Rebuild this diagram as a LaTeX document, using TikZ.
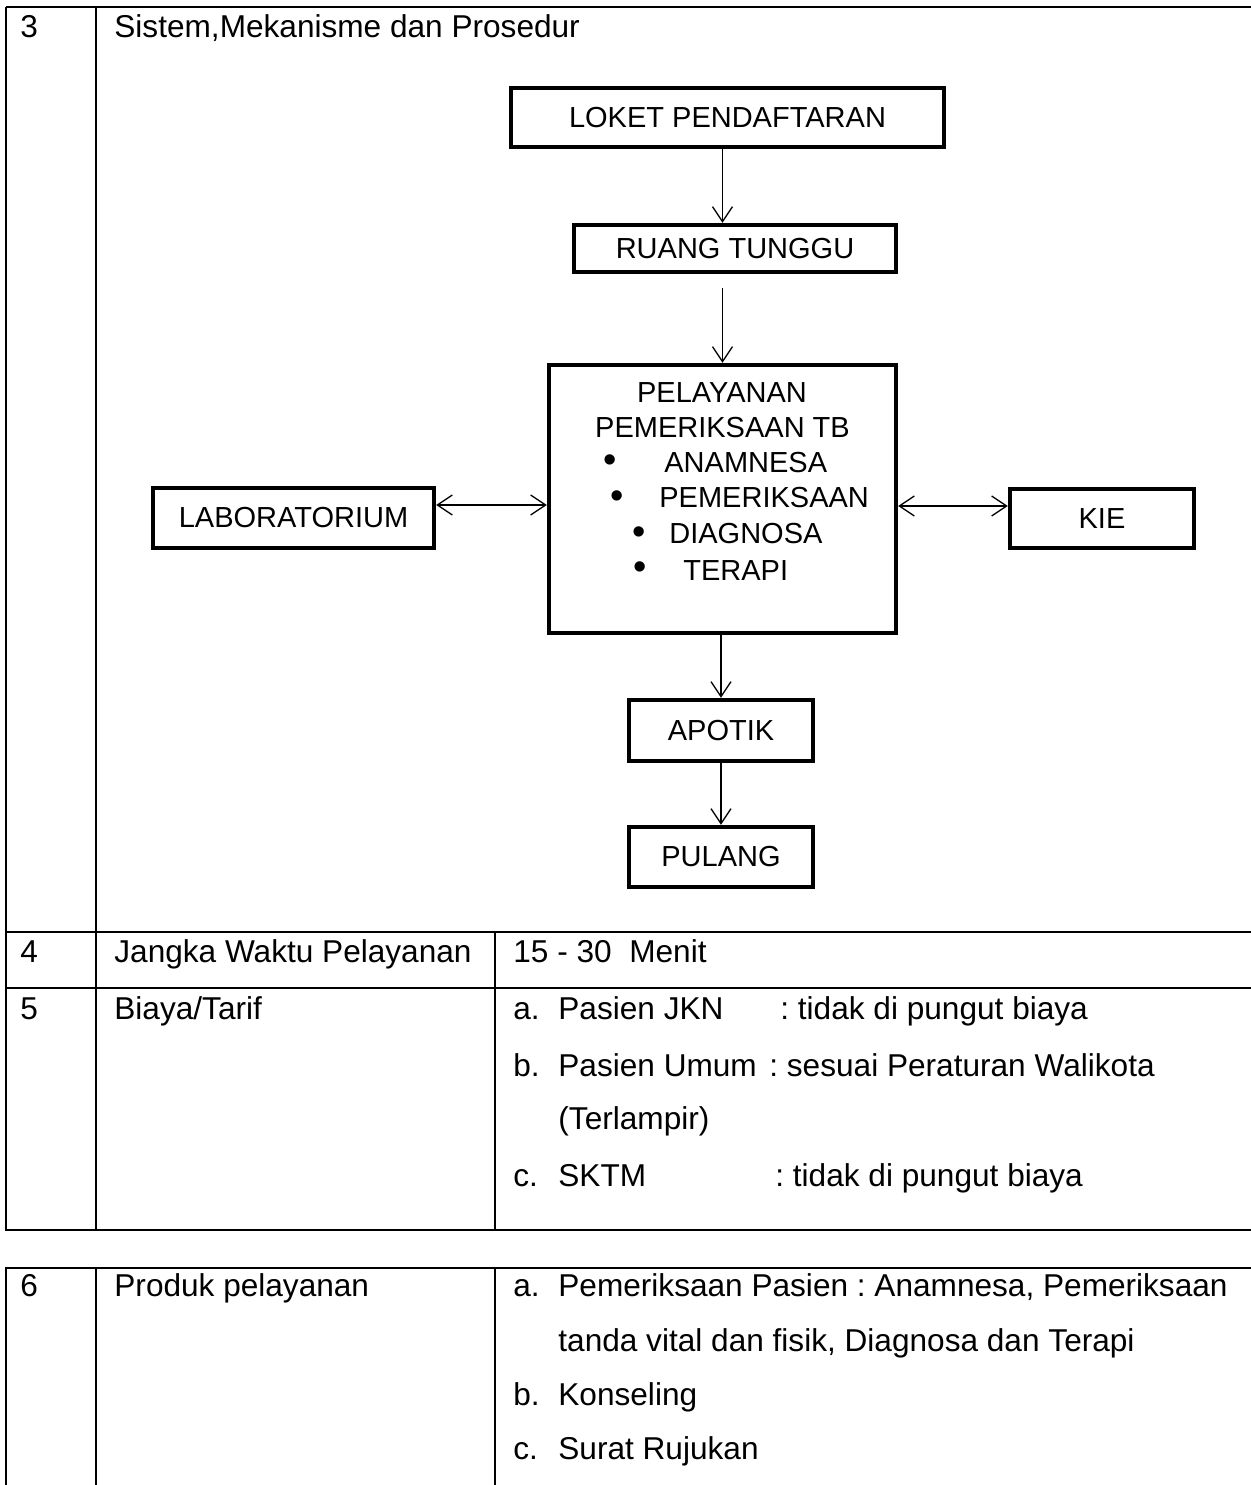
\documentclass[tikz,border=0pt]{standalone}
\usepackage{fontspec}
\setmainfont{Liberation Sans}
\usetikzlibrary{arrows.meta}
\frenchspacing

\begin{document}
\begin{tikzpicture}[x=0.5pt, y=-0.5pt, auto,
    langkah/.style ={rectangle, draw, line width=2.2pt, inner sep=0pt, font=\fontsize{14.5}{17}\selectfont},
    alur/.style ={line width=0.65pt, -{Straight Barb[length=7.5pt, width=10pt]}},
    duaarah/.style ={line width=0.65pt, {Straight Barb[length=7.5pt, width=10pt]}-{Straight Barb[length=7.5pt, width=10pt]}},
    isi/.style ={anchor=base west, inner sep=0pt, font=\fontsize{15.8}{19}\selectfont},
    butir/.style ={inner sep=0pt, font=\fontsize{14.5}{17}\selectfont},
    titik/.style ={inner sep=0pt, font=\fontsize{19}{19}\selectfont},
    garis/.style ={line width=1pt}]
   \useasboundingbox (0,0) rectangle (1251,1485);

   % tabel
   \draw[garis] (6,7) -- (1251,7);
   \draw[garis] (6,7) -- (6,1230);
   \draw[garis] (96,7) -- (96,1230);
   \draw[garis] (6,932) -- (1251,932);
   \draw[garis] (495,932) -- (495,1230);
   \draw[garis] (6,988) -- (1251,988);
   \draw[garis, line width=1.3pt] (5,1230) -- (1251,1230);
   \draw[garis, line width=1.3pt] (5,1268) -- (1251,1268);
   \draw[garis] (6,1268) -- (6,1485);
   \draw[garis] (96,1268) -- (96,1485);
   \draw[garis] (495,1268) -- (495,1485);

   \node[isi] (no3) at (20,37) {3};
   \node[isi] (judul3) at (114,37) {Sistem,Mekanisme dan Prosedur};
   \node[isi] (no4) at (20,962) {4};
   \node[isi] (judul4) at (114,962) {Jangka Waktu Pelayanan};
   \node[isi] (waktu) at (513,962) {15 - 30\ \ Menit};
   \node[isi] (no5) at (20,1019) {5};
   \node[isi] (judul5) at (114,1019) {Biaya/Tarif};
   \node[isi] (biayaA) at (513,1019) {a.};
   \node[isi] (biayaAa) at (558,1019) {Pasien JKN};
   \node[isi] (biayaAb) at (780,1019) {: tidak di pungut biaya};
   \node[isi] (biayaB) at (513,1076) {b.};
   \node[isi] (biayaBa) at (558,1076) {Pasien Umum};
   \node[isi] (biayaBb) at (769,1076) {: sesuai Peraturan Walikota};
   \node[isi] (biayaBc) at (558,1129) {(Terlampir)};
   \node[isi] (biayaC) at (513,1186) {c.};
   \node[isi] (biayaCa) at (558,1186) {SKTM};
   \node[isi] (biayaCb) at (775,1186) {: tidak di pungut biaya};
   \node[isi] (no6) at (20,1296) {6};
   \node[isi] (judul6) at (114,1296) {Produk pelayanan};
   \node[isi] (produkA) at (513,1296) {a.};
   \node[isi] (produkAa) at (558,1296) {Pemeriksaan Pasien : Anamnesa, Pemeriksaan};
   \node[isi] (produkAb) at (558,1351) {tanda vital dan fisik, Diagnosa dan Terapi};
   \node[isi] (produkB) at (513,1405) {b.};
   \node[isi] (produkBa) at (558,1405) {Konseling};
   \node[isi] (produkC) at (513,1459) {c.};
   \node[isi] (produkCa) at (558,1459) {Surat Rujukan};

   % alur pelayanan
   \node[langkah, minimum width=216.5pt, minimum height=29.5pt] (loket) at (727.5,117.5) {LOKET PENDAFTARAN};
   \node[langkah, minimum width=161pt, minimum height=23.5pt] (ruang) at (735,248.5) {RUANG TUNGGU};
   \node[langkah, minimum width=173.5pt, minimum height=134pt] (pel) at (722.5,499) {};
   \node[langkah, minimum width=140.5pt, minimum height=30pt] (lab) at (293.5,518) {LABORATORIUM};
   \node[langkah, minimum width=92pt, minimum height=29.5pt] (kie) at (1102,518.5) {KIE};
   \node[langkah, minimum width=92pt, minimum height=30.5pt] (apotik) at (721,730.5) {APOTIK};
   \node[langkah, minimum width=92pt, minimum height=30pt] (pulang) at (721,857) {PULANG};

   \node[butir, anchor=base] (pelA) at (722,402) {PELAYANAN};
   \node[butir, anchor=base] (pelB) at (722.5,437) {PEMERIKSAAN TB};
   \node[titik] (t1) at (610,464) {•};
   \node[butir, anchor=base west] (pel1) at (664,472) {ANAMNESA};
   \node[titik] (t2) at (617,500) {•};
   \node[butir, anchor=base west] (pel2) at (659,507) {PEMERIKSAAN};
   \node[titik] (t3) at (639,536) {•};
   \node[butir, anchor=base west] (pel3) at (669,543) {DIAGNOSA};
   \node[titik] (t4) at (640,571) {•};
   \node[butir, anchor=base west] (pel4) at (683,580) {TERAPI};

   \coordinate (labout) at ([yshift=6.5pt]lab.east);
   \coordinate (kiein) at ([yshift=6.25pt]kie.west);

   \draw[alur] (loket.south -| pel.north) to (ruang.north -| pel.north);
   \draw[alur, shorten <=7pt] (ruang.south -| pel.north) to (pel.north);
   \draw[duaarah] (labout) to (labout -| pel.west);
   \draw[duaarah] (kiein -| pel.east) to (kiein);
   \draw[alur] (pel.south -| apotik.north) to (apotik.north);
   \draw[alur] (apotik) to (pulang);
\end{tikzpicture}
\end{document}
